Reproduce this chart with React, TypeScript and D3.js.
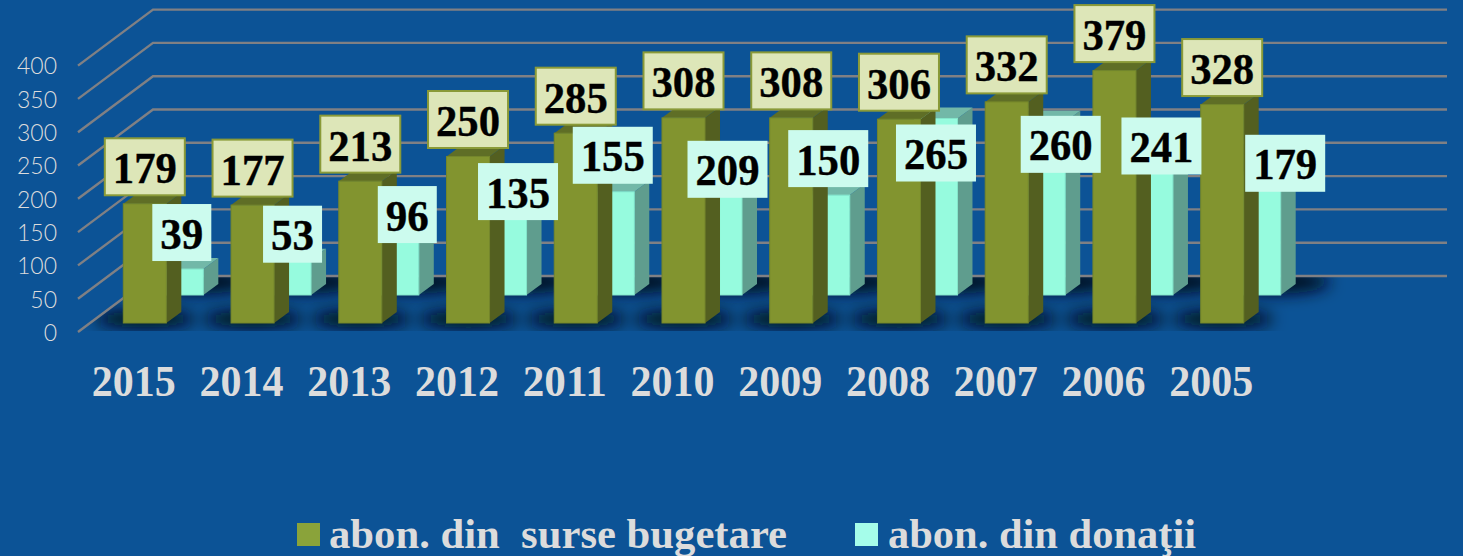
import React, { useRef, useEffect } from 'react';
import * as d3 from 'd3';

const years = ['2015', '2014', '2013', '2012', '2011', '2010', '2009', '2008', '2007', '2006', '2005'];
const budgetValues = [179, 177, 213, 250, 285, 308, 308, 306, 332, 379, 328];
const donationValues = [39, 53, 96, 135, 155, 209, 150, 265, 260, 241, 179];
const gridTicks = [0, 50, 100, 150, 200, 250, 300, 350, 400];
const legendLabels = ['abon. din  surse bugetare', 'abon. din donaţii'];

// the white labels were moved by hand in the original, so they need nudging off their bars
const donationLabelDx = [0, 3, 10, 13, 0, 7, 0, 0, 17, 10, 26];
const donationLabelDy = [0, 11, 20, 23, 0, 50, 0, 71, 59, 48, 24];

const width = 1463;
const height = 556;
const serif = '"Liberation Serif", serif';

const App = () => {
    const svgRef = useRef<SVGSVGElement>(null);

    useEffect(() => {
        const svg = d3.select(svgRef.current);
        svg.selectAll('*').remove();

        svg.append('rect').attr('width', width).attr('height', height).attr('fill', '#0c5396');

        // Scales
        const x = d3.scaleBand().domain(years).range([123.3, 1243.7]).paddingInner(0.6007);
        const h = d3.scaleLinear().domain([0, 400]).range([0, 266.4]);
        const barW = x.bandwidth();
        const poly = (pts: [number, number][]) => d3.line()(pts) + 'Z';

        // Depth of the bars and of the chart floor
        const sideX = 15;
        const sideY = 11;
        const floorX = 75;
        const floorY = 56;
        const gridFront = 332;
        const budgetBase = 323;
        const donationBase = 295;
        const donationShift = 37;

        // Floor shadows
        const defs = svg.append('defs');
        defs.append('filter')
            .attr('id', 'blur')
            .attr('x', '-50%').attr('y', '-150%').attr('width', '200%').attr('height', '400%')
            .append('feGaussianBlur')
            .attr('stdDeviation', 8);
        defs.append('clipPath')
            .attr('id', 'floor')
            .append('path')
            .attr('d', poly([[78, 331], [153, 277], [1447, 277], [1447, 331]]));

        const shadows = svg.append('g').attr('clip-path', 'url(#floor)');
        years.forEach(year => {
            const left = x(year) as number;
            shadows.append('ellipse')
                .attr('cx', left + donationShift + 36)
                .attr('cy', 282)
                .attr('rx', 56)
                .attr('ry', 12)
                .attr('fill', '#000c22')
                .attr('filter', 'url(#blur)');
            shadows.append('ellipse')
                .attr('cx', left + 22)
                .attr('cy', 319)
                .attr('rx', 50)
                .attr('ry', 9)
                .attr('fill', '#000816')
                .attr('filter', 'url(#blur)');
        });

        // Grid lines run along the side wall then across the back
        gridTicks.forEach(tick => {
            const yFront = gridFront - h(tick);
            svg.append('path')
                .attr('d', d3.line()([[78, yFront], [78 + floorX, yFront - floorY], [1447, yFront - floorY]]))
                .attr('fill', 'none')
                .attr('stroke', '#808084')
                .attr('stroke-width', 2.4);
        });

        const drawBar = (g: any, left: number, base: number, value: number, c: any) => {
            const top = base - h(value);
            const right = left + barW;
            g.append('path')
                .attr('d', poly([[right, base], [right + sideX, base - sideY], [right + sideX, top - sideY], [right, top]]))
                .attr('fill', c.side);
            g.append('path')
                .attr('d', poly([[left, top], [left + sideX, top - sideY], [right + sideX, top - sideY], [right, top]]))
                .attr('fill', c.top);
            g.append('rect')
                .attr('x', left)
                .attr('y', top)
                .attr('width', barW)
                .attr('height', base - top)
                .attr('fill', c.front)
                .attr('stroke', c.edge)
                .attr('stroke-width', 1);
        };

        // Back row first, the olive bars stand in front of it
        const bars = svg.append('g');
        years.forEach((year, i) => {
            drawBar(bars, (x(year) as number) + donationShift, donationBase, donationValues[i],
                { front: '#96fbde', side: '#5f9d8e', top: '#72b8a8', edge: '#85e6cb' });
        });
        years.forEach((year, i) => {
            drawBar(bars, x(year) as number, budgetBase, budgetValues[i],
                { front: '#82942f', side: '#535f20', top: '#5f6e26', edge: '#74862b' });
        });

        // Value labels
        const labels = svg.append('g')
            .attr('font-family', serif)
            .attr('font-weight', 'bold')
            .attr('font-size', 45)
            .attr('text-anchor', 'middle')
            .attr('fill', '#000');

        const valueText = (cx: number, y: number, value: number) => {
            labels.append('text')
                .attr('x', cx)
                .attr('y', y)
                .attr('textLength', value < 100 ? 43 : 64)
                .attr('lengthAdjust', 'spacingAndGlyphs')
                .attr('stroke', '#000')
                .attr('stroke-width', 0.4)
                .text(value);
        };

        years.forEach((year, i) => {
            const cx = (x(year) as number) + barW / 2;
            const top = budgetBase - h(budgetValues[i]);
            labels.append('rect')
                .attr('x', cx - 40)
                .attr('y', top - 65.5)
                .attr('width', 80)
                .attr('height', 57)
                .attr('fill', '#dde6b8')
                .attr('stroke', '#8a9a38')
                .attr('stroke-width', 2);
            valueText(cx, top - 20.5, budgetValues[i]);
        });

        years.forEach((year, i) => {
            const value = donationValues[i];
            const cx = (x(year) as number) + donationShift + barW / 2 + donationLabelDx[i];
            const top = donationBase - h(value) + donationLabelDy[i];
            const boxW = value < 100 ? 59 : 80;
            labels.append('rect')
                .attr('x', cx - boxW / 2)
                .attr('y', top - 65)
                .attr('width', boxW)
                .attr('height', 57)
                .attr('fill', '#ccfbee');
            valueText(cx, top - 20.5, value);
        });

        // Value axis, on the front edge of the side wall
        const yAxis = svg.append('g')
            .attr('transform', `translate(57,${gridFront + 1})`)
            .call(d3.axisLeft(d3.scaleLinear().domain([0, 400]).range([0, -266.4])).tickValues(gridTicks).tickSize(0).tickPadding(0));
        yAxis.select('.domain').remove();
        yAxis.selectAll('text')
            .attr('font-family', 'Lato, sans-serif')
            .attr('font-weight', 300)
            .attr('font-size', 23)
            .attr('fill', '#dcdcdc');

        // Year axis
        const xAxis = svg.append('g')
            .attr('transform', 'translate(-11,396)')
            .call(d3.axisBottom(x).tickSize(0));
        xAxis.select('.domain').remove();
        xAxis.selectAll('text')
            .attr('y', 0)
            .attr('dy', 0)
            .attr('textLength', 84)
            .attr('lengthAdjust', 'spacingAndGlyphs')
            .attr('font-family', serif)
            .attr('font-weight', 'bold')
            .attr('font-size', 45)
            .attr('fill', '#dcdcdc');

        // Legend
        const legend = svg.append('g');
        const legendItems = [
            { label: legendLabels[0], color: '#8aa33a', box: 297, text: 329, length: 458 },
            { label: legendLabels[1], color: '#a5fdea', box: 855, text: 888, length: 308 },
        ];
        legendItems.forEach(item => {
            legend.append('rect')
                .attr('x', item.box)
                .attr('y', 523)
                .attr('width', 23)
                .attr('height', 23)
                .attr('fill', item.color);
            legend.append('text')
                .attr('x', item.text)
                .attr('y', 548)
                .attr('xml:space', 'preserve')
                .style('white-space', 'pre')
                .attr('textLength', item.length)
                .attr('lengthAdjust', 'spacingAndGlyphs')
                .attr('font-family', serif)
                .attr('font-weight', 'bold')
                .attr('font-size', 43)
                .attr('fill', '#dcdcdc')
                .text(item.label);
        });
    }, []);

    return <svg ref={svgRef} width={width} height={height} style={{ position: 'absolute', left: 0, top: 0, display: 'block' }}></svg>;
};

export default App;
